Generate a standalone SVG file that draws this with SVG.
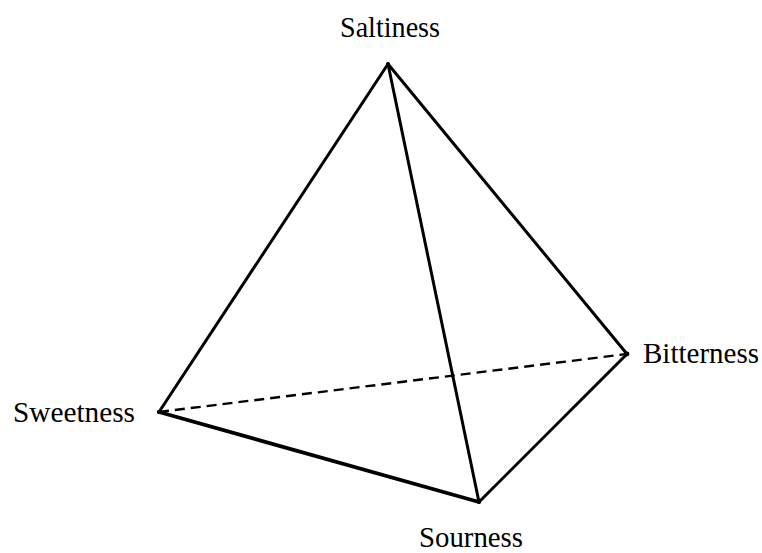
<svg xmlns="http://www.w3.org/2000/svg" width="762" height="553" viewBox="0 0 762 553">
<style>
.edge{stroke:#000;stroke-width:3;fill:none;stroke-linecap:round}
.hidden{stroke:#000;stroke-width:2.4;fill:none;stroke-dasharray:10 6}
.lbl{font-family:"Liberation Serif","Times New Roman",serif;font-size:30px;fill:#000}
.dot{fill:#000}
</style>
<rect width="762" height="553" fill="#fff"/>
<g id="connectors">
<line class="hidden" x1="159" y1="412" x2="627" y2="354"/>
<line class="edge" x1="388" y1="64" x2="159" y2="412"/>
<line class="edge" x1="388" y1="64" x2="627" y2="354"/>
<line class="edge" x1="388" y1="64" x2="479" y2="502"/>
<line class="edge" x1="159" y1="412" x2="479" y2="502" style="stroke-width:3.8"/>
<line class="edge" x1="627" y1="354" x2="479" y2="502"/>
</g>
<g id="saltiness"><circle class="dot" cx="388" cy="64" r="2"/><text class="lbl" x="340" y="37" textLength="100" lengthAdjust="spacingAndGlyphs">Saltiness</text></g>
<g id="sweetness"><circle class="dot" cx="159" cy="412" r="2"/><text class="lbl" x="13" y="422" textLength="122" lengthAdjust="spacingAndGlyphs">Sweetness</text></g>
<g id="sourness"><circle class="dot" cx="479" cy="502" r="2"/><text class="lbl" x="419" y="547" textLength="104" lengthAdjust="spacingAndGlyphs">Sourness</text></g>
<g id="bitterness"><circle class="dot" cx="627" cy="354" r="2.4"/><text class="lbl" x="643" y="363" textLength="116" lengthAdjust="spacingAndGlyphs">Bitterness</text></g>
</svg>
